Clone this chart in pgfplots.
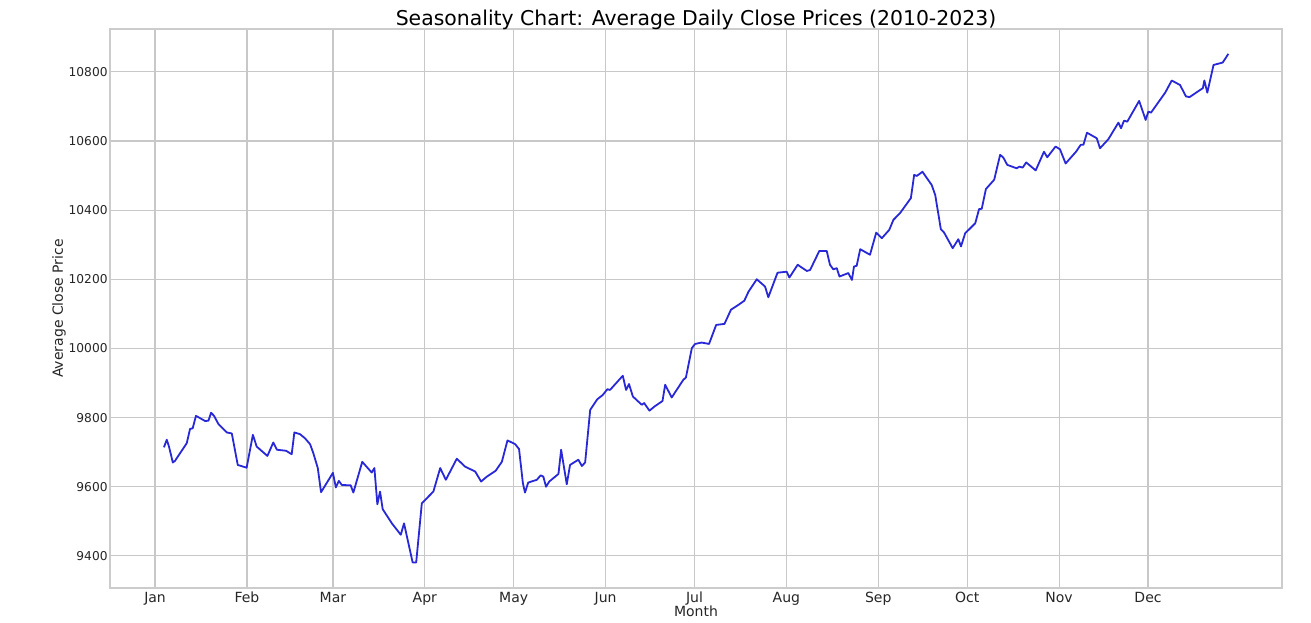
\documentclass[border=0pt]{standalone}
\usepackage{pgfplots}
\pgfplotsset{compat=1.18}
\usepackage{fontspec}
\setmainfont{DejaVu Sans}
\definecolor{linecol}{RGB}{40,40,215}
\definecolor{gridcol}{RGB}{200,200,200}
\definecolor{framecol}{RGB}{204,204,204}
\begin{document}
\begin{tikzpicture}
\begin{axis}[
  name=main,
  scale only axis,
  width=586pt, height=279.5pt,
  xmin=-15.2, xmax=380.2,
  ymin=9307, ymax=10924,
  scaled y ticks=false, scaled x ticks=false,
  xtick={0,31,60,91,121,152,182,213,244,274,305,335},
  xticklabels={Jan,Feb,Mar,Apr,May,Jun,Jul,Aug,Sep,Oct,Nov,Dec},
  ytick={9400,9600,9800,10000,10200,10400,10600,10800},
  yticklabels={9400,9600,9800,10000,10200,10400,10600,10800},
  tick style={draw=none},
  grid=major,
  major grid style={draw=gridcol, line width=0.6pt},
  axis line style={draw=framecol, line width=0.6pt},
  ticklabel style={text=black!85},
  xticklabel style={font=\fontsize{7}{8}\selectfont, text height=1.6ex, text depth=0.3ex, anchor=north, yshift=5pt},
  yticklabel style={font=\fontsize{6.1}{7}\selectfont, xshift=2.3pt},
  xlabel={Month}, ylabel={Average Close Price},
  label style={font=\fontsize{7}{8}\selectfont, text=black!85},
  xlabel style={at={(axis description cs:0.5,-0.041)}, anchor=center},
  ylabel style={at={(axis description cs:-0.0435,0.5)}, anchor=center},
  title={Seasonality Chart: Average Daily Close Prices (2010-2023)},
  title style={font=\fontsize{10.2}{12}\selectfont, yshift=-10pt},
  /pgf/number format/assume math mode=true,
]
\addplot[color=linecol, line width=0.9pt, line join=round] coordinates {
(3.0,9714) (3.95,9736) (4.7,9716) (6.0,9670) (6.75,9675) (10.7,9726) (11.8,9767) (12.7,9769) (13.8,9805)
(16.9,9790) (18.0,9791) (18.9,9814) (19.9,9805) (21.4,9781) (24.2,9757) (25.9,9754) (27.9,9663) (30.9,9655)
(33.0,9750) (34.3,9716) (37.9,9689) (39.9,9728) (41.1,9707) (44.2,9704) (46.1,9694) (47.0,9757) (48.9,9752)
(50.6,9740) (52.3,9723) (53.4,9697) (54.9,9654) (56.0,9584) (60.0,9640) (61.0,9598) (62.0,9617) (63.0,9605)
(66.0,9604) (66.9,9583) (69.9,9672) (73.1,9641) (74.0,9654) (75.0,9549) (75.9,9586) (76.8,9535) (79.9,9494)
(82.9,9461) (84.0,9494) (86.9,9381) (88.1,9381) (90.0,9552) (93.9,9586) (96.2,9654) (98.1,9620) (101.8,9681)
(104.6,9658) (108.0,9644) (110.0,9615) (111.9,9629) (114.9,9646) (117.0,9672) (118.9,9734) (121.5,9723)
(122.8,9709) (124.1,9610) (124.8,9583) (125.9,9612) (128.8,9620) (130.1,9633) (131.0,9629) (131.9,9600)
(133.0,9615) (136.1,9637) (137.0,9707) (138.9,9607) (140.0,9663) (142.8,9678) (144.0,9660) (145.1,9670)
(146.8,9822) (149.2,9853) (151.0,9865) (152.6,9882) (153.5,9880) (157.8,9921) (158.9,9880) (159.9,9897)
(161.2,9861) (164.2,9837) (165.0,9842) (166.8,9820) (168.5,9832) (171.2,9848) (172.1,9895) (174.3,9858)
(178.2,9909) (179.1,9916) (181.1,10001) (182.2,10013) (184.4,10017) (186.9,10013) (189.3,10068) (192.1,10071)
(194.3,10112) (196.8,10126) (198.8,10138) (200.2,10164) (203.0,10200) (205.8,10179) (206.9,10148) (210.0,10219)
(213.1,10222) (214.0,10205) (216.8,10242) (219.9,10224) (221.0,10227) (224.1,10282) (226.6,10282) (227.7,10242)
(228.8,10229) (230.0,10232) (230.9,10208) (233.9,10218) (235.1,10198) (235.8,10237) (236.7,10239) (237.9,10287)
(241.2,10271) (243.3,10335) (245.2,10319) (247.7,10343) (249.1,10372) (251.3,10391) (255.0,10435) (256.1,10502)
(257.0,10499) (258.9,10511) (262.0,10473) (263.2,10444) (265.1,10345) (266.2,10335) (269.1,10290) (271.0,10316)
(271.9,10295) (273.3,10333) (276.7,10362) (278.0,10403) (278.9,10404) (280.3,10461) (283.1,10488) (285.1,10560)
(286.2,10552) (287.5,10531) (290.7,10521) (291.6,10526) (292.7,10523) (293.9,10538) (297.1,10515) (299.9,10569)
(301.0,10553) (303.8,10584) (305.3,10576) (307.2,10535) (310.7,10569) (312.3,10589) (313.2,10589) (314.4,10624)
(317.7,10608) (318.8,10579) (321.6,10605) (325.0,10653) (325.9,10637) (326.9,10659) (328.0,10656) (332.0,10716)
(334.2,10661) (335.1,10685) (336.0,10682) (340.8,10740) (343.0,10775) (345.8,10762) (347.8,10729) (349.0,10727)
(353.5,10753) (354.0,10775) (355.0,10740) (357.1,10820) (360.2,10827) (362.1,10852)
};
\end{axis}
\pgfresetboundingbox
\useasboundingbox ([shift={(-55pt,-17pt)}]main.south west) rectangle ([shift={(14.5pt,14.5pt)}]main.north east);
\end{tikzpicture}
\end{document}
